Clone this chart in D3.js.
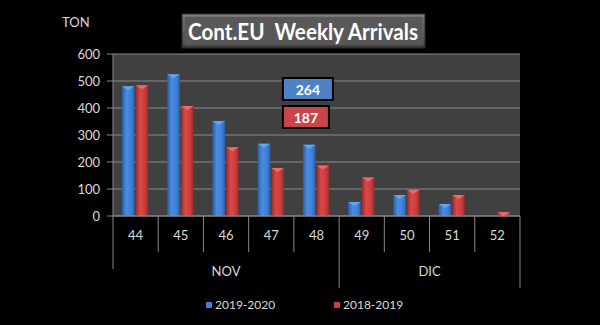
<!DOCTYPE html>
<html>
<head>
<meta charset="utf-8">
<script src="https://cdn.jsdelivr.net/npm/d3@7"></script>
<style>
  html, body { margin: 0; padding: 0; background: #000; }
  svg { display: block; }
</style>
</head>
<body>
<script>
var weeks = ['44', '45', '46', '47', '48', '49', '50', '51', '52'];
var months = [
    { name: 'NOV', first: '44', last: '48' },
    { name: 'DIC', first: '49', last: '52' }
];
var seriesNames = ['2019-2020', '2018-2019'];
var values2019 = [481, 525, 352, 268, 264, 52, 78, 44, 0];
var values2018 = [484, 407, 255, 178, 187, 143, 97, 78, 14];
var yTicks = [0, 100, 200, 300, 400, 500, 600];
var calloutWeek = '48';

var W = 600, H = 325;
var font = 'Lato, "Open Sans", sans-serif';
var colBlue = '#3c7fd8', colRed = '#cc3b3b';
var textGrey = '#d9d9d9';

var svg = d3.select('body').append('svg')
        .attr('width', W)
        .attr('height', H);

svg.append('rect').attr('width', W).attr('height', H).attr('fill', '#000');

var defs = svg.append('defs');
function barGradient(id, dark, mid, light) {
    var g = defs.append('linearGradient').attr('id', id)
            .attr('x1', 0).attr('x2', 1).attr('y1', 0).attr('y2', 0);
    g.append('stop').attr('offset', '0%').attr('stop-color', dark);
    g.append('stop').attr('offset', '35%').attr('stop-color', light);
    g.append('stop').attr('offset', '75%').attr('stop-color', mid);
    g.append('stop').attr('offset', '100%').attr('stop-color', dark);
}
barGradient('gBlue', '#2a5fa8', colBlue, '#4a8ce0');
barGradient('gRed', '#9a2a2a', colRed, '#d84a4a');

var tg = defs.append('linearGradient').attr('id', 'gTitle')
        .attr('x1', 0).attr('x2', 0).attr('y1', 0).attr('y2', 1);
tg.append('stop').attr('offset', '0%').attr('stop-color', '#8a8a8a');
tg.append('stop').attr('offset', '12%').attr('stop-color', '#6a6a6a');
tg.append('stop').attr('offset', '88%').attr('stop-color', '#505050');
tg.append('stop').attr('offset', '100%').attr('stop-color', '#333');

// Scales
var plot = { left: 113, right: 520, top: 54, bottom: 216 };
var x0 = d3.scaleBand().domain(weeks).range([plot.left, plot.right]);
var bw = x0.bandwidth();
var x1 = d3.scaleBand().domain(seriesNames)
        .range([bw * 0.2, bw * 0.78]).paddingInner(0.08);
var y = d3.scaleLinear().domain([0, 600]).range([plot.bottom, plot.top]);

// Plot background
svg.append('rect')
        .attr('x', plot.left).attr('y', plot.top)
        .attr('width', plot.right - plot.left)
        .attr('height', plot.bottom - plot.top)
        .attr('fill', '#404040');

// Gridlines + ticks
svg.selectAll('.grid').data(yTicks).enter().append('line')
        .attr('x1', plot.left - 6).attr('x2', plot.right)
        .attr('y1', function(d) { return y(d); })
        .attr('y2', function(d) { return y(d); })
        .attr('stroke', '#8a8a8a').attr('stroke-width', 1);

svg.selectAll('.ylab').data(yTicks).enter().append('text')
        .attr('x', 100)
        .attr('y', function(d) { return y(d); })
        .attr('dy', '0.35em')
        .attr('text-anchor', 'end')
        .attr('fill', textGrey)
        .style('font-family', font)
        .style('font-size', '13px')
        .text(function(d) { return d; });

svg.append('text')
        .attr('x', 62).attr('y', 27)
        .attr('fill', textGrey)
        .style('font-family', font)
        .style('font-size', '13px')
        .text('TON');

// Left axis line
svg.append('line')
        .attr('x1', plot.left).attr('x2', plot.left)
        .attr('y1', plot.top).attr('y2', plot.bottom)
        .attr('stroke', '#8a8a8a');

// Bars
var rows = weeks.map(function(w, i) {
    return { week: w, vals: [
        { s: seriesNames[0], v: values2019[i], fill: 'url(#gBlue)', top: '#6aa6ee' },
        { s: seriesNames[1], v: values2018[i], fill: 'url(#gRed)', top: '#ee7070' }
    ] };
});

var groups = svg.selectAll('.wk').data(rows).enter().append('g')
        .attr('transform', function(d) { return 'translate(' + x0(d.week) + ',0)'; });

var bars = groups.selectAll('.bar').data(function(d) { return d.vals.filter(function(b) { return b.v > 0; }); })
        .enter().append('g');

bars.append('rect')
        .attr('x', function(d) { return x1(d.s); })
        .attr('y', function(d) { return y(d.v); })
        .attr('width', x1.bandwidth())
        .attr('height', function(d) { return y(0) - y(d.v); })
        .attr('fill', function(d) { return d.fill; });

// bevel triangle on top of each bar
bars.append('path')
        .attr('d', function(d) {
            var xa = x1(d.s), xb = xa + x1.bandwidth(), yt = y(d.v);
            var h = Math.min(4, y(0) - yt);
            return 'M' + xa + ',' + yt + 'L' + xb + ',' + yt + 'L' + (xa + xb) / 2 + ',' + (yt + h) + 'Z';
        })
        .attr('fill', function(d) { return d.top; })
        .attr('opacity', 0.9);

// Category axis
var axisY = plot.bottom;
svg.append('line')
        .attr('x1', plot.left).attr('x2', plot.right)
        .attr('y1', axisY).attr('y2', axisY)
        .attr('stroke', '#8a8a8a');

var bounds = weeks.map(function(w) { return x0(w); }).concat([plot.right]);
svg.selectAll('.sep').data(bounds).enter().append('line')
        .attr('x1', function(d) { return d; })
        .attr('x2', function(d) { return d; })
        .attr('y1', axisY)
        .attr('y2', function(d, i) {
            if (i === 0) return 269;
            if (i === weeks.indexOf('49') || i === weeks.length) return 288;
            return 252;
        })
        .attr('stroke', '#8a8a8a');

svg.selectAll('.xlab').data(weeks).enter().append('text')
        .attr('x', function(d) { return x0(d) + bw / 2; })
        .attr('y', 235)
        .attr('dy', '0.35em')
        .attr('text-anchor', 'middle')
        .attr('fill', textGrey)
        .style('font-family', font)
        .style('font-size', '13px')
        .text(function(d) { return d; });

svg.selectAll('.mlab').data(months).enter().append('text')
        .attr('x', function(d) { return (x0(d.first) + x0(d.last) + bw) / 2; })
        .attr('y', 271)
        .attr('dy', '0.35em')
        .attr('text-anchor', 'middle')
        .attr('fill', textGrey)
        .style('font-family', font)
        .style('font-size', '13px')
        .text(function(d) { return d.name; });

// Callout boxes for week 48
var ci = weeks.indexOf(calloutWeek);
var callouts = [
    { v: values2019[ci], fill: '#4f81c8', y: 78, w: 50 },
    { v: values2018[ci], fill: '#c8464a', y: 106, w: 46 }
];
var cx = x0(calloutWeek) - 11;
var cg = svg.selectAll('.callout').data(callouts).enter().append('g');
cg.append('rect')
        .attr('x', cx).attr('y', function(d) { return d.y; })
        .attr('width', function(d) { return d.w; }).attr('height', 22)
        .attr('fill', function(d) { return d.fill; })
        .attr('stroke', '#000').attr('stroke-width', 2);
cg.append('text')
        .attr('x', function(d) { return cx + d.w / 2; })
        .attr('y', function(d) { return d.y + 12; })
        .attr('dy', '0.35em')
        .attr('text-anchor', 'middle')
        .attr('fill', '#fff')
        .style('font-family', font)
        .style('font-weight', 'bold')
        .style('font-size', '14px')
        .text(function(d) { return d.v; });

// Title box
svg.append('rect')
        .attr('x', 182).attr('y', 14)
        .attr('width', 243).attr('height', 34)
        .attr('fill', 'url(#gTitle)')
        .attr('stroke', '#2a2a2a').attr('stroke-width', 1);
svg.append('rect')
        .attr('x', 185).attr('y', 17)
        .attr('width', 237).attr('height', 28)
        .attr('fill', '#585858');
svg.append('text')
        .attr('x', 303).attr('y', 32)
        .attr('dy', '0.35em')
        .attr('text-anchor', 'middle')
        .attr('fill', '#fff')
        .attr('textLength', 230)
        .attr('lengthAdjust', 'spacingAndGlyphs')
        .style('font-family', font)
        .style('font-weight', 'bold')
        .style('font-size', '23px')
        .style('white-space', 'pre')
        .attr('xml:space', 'preserve')
        .text('Cont.EU  Weekly Arrivals');

// Legend
var legend = [
    { name: seriesNames[0], color: colBlue, x: 206 },
    { name: seriesNames[1], color: colRed, x: 334 }
];
var lg = svg.selectAll('.leg').data(legend).enter().append('g')
        .attr('transform', function(d) { return 'translate(' + d.x + ',302)'; });
lg.append('rect')
        .attr('width', 6).attr('height', 6)
        .attr('fill', function(d) { return d.color; });
lg.append('text')
        .attr('x', 9).attr('y', 3)
        .attr('dy', '0.35em')
        .attr('fill', textGrey)
        .style('font-family', font)
        .style('font-size', '12px')
        .text(function(d) { return d.name; });
</script>
</body>
</html>
